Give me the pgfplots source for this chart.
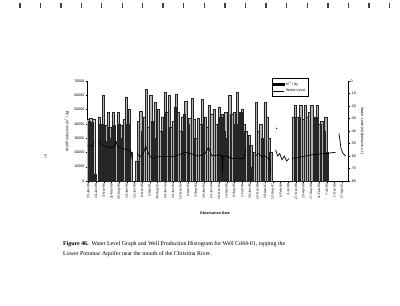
\documentclass[border=0pt]{standalone}
\usepackage{fontspec}
\setmainfont{Liberation Sans}
\newfontfamily\capfont{Liberation Serif}
\usepackage{pgfplots}
\pgfplotsset{compat=1.18}
\usepackage{pgfplotstable}

\pgfplotstableread{
x y
0.5 43000
2.0 42000
3.5 44000
5.0 41000
6.5 43000
8.2 5000
12.0 45000
13.7 40000
15.3 40000
16.3 60000
18.0 28000
19.3 39000
21.3 48000
22.7 38000
24.3 30000
26.0 48000
27.3 39000
28.7 28000
31.0 48000
32.3 40000
33.7 39000
35.3 30000
37.0 43000
39.3 59000
40.7 40000
42.0 50000
43.7 20000
49.7 14000
51.3 42000
53.7 49000
55.3 35000
57.0 45000
59.3 64000
61.3 38000
63.7 60000
65.3 42000
68.0 55000
69.3 30000
71.3 50000
73.7 35000
75.3 45000
78.0 62000
79.7 48000
82.0 60000
83.7 38000
86.0 42000
88.0 52000
89.3 61000
91.3 48000
93.7 35000
95.3 45000
97.3 47000
98.7 56000
101.3 40000
102.7 44000
105.3 58000
107.0 43000
108.7 30000
111.3 44000
113.7 40000
115.3 57000
118.0 45000
120.3 38000
122.0 53000
124.7 47000
127.0 50000
129.3 40000
132.0 52000
133.7 45000
135.3 47000
137.0 35000
138.7 48000
140.3 30000
142.7 60000
144.7 47000
147.0 48000
148.7 40000
150.3 62000
152.0 48000
153.7 48000
155.3 50000
157.0 40000
158.7 35000
162.0 32000
163.7 25000
165.3 10000
167.0 20000
169.3 55000
171.3 35000
173.7 40000
175.3 30000
178.0 55000
180.3 45000
182.0 30000
183.7 20000
206.0 45000
208.0 53000
209.7 45000
212.0 45000
213.7 53000
216.0 43000
218.0 53000
220.3 45000
222.0 48000
224.7 53000
227.0 45000
228.7 45000
230.3 53000
232.7 40000
234.7 42000
237.0 35000
238.7 45000
240.3 20000
}\prodtable

\pgfplotstableread{
x y
0.3 -52
5.3 -52
7.0 -48.5
nan nan
12.7 -48.5
15.3 -51
20.3 -53
27.0 -53
28.7 -48.5
31.3 -53
38.7 -54.7
43.7 -55.7
45.3 -63
nan nan
50.3 -58.4
53.7 -60.5
57.0 -56.5
58.7 -52
62.0 -59
65.3 -62
72.0 -60.5
85.3 -60.5
92.0 -59
98.7 -57
112.0 -60
118.0 -58
121.5 -53
125.0 -60
132.0 -59
135.0 -60
135.5 -74
136.0 -60
138.7 -60
145.3 -62
157.0 -62
158.7 -55
nan nan
168.0 -60
172.0 -58
175.0 -61
178.0 -60
181.0 -62
183.0 -63
183.7 -74
nan nan
188.7 -55
190.7 -60
192.7 -58
195.0 -63
197.3 -60
199.7 -64
202.0 -62
nan nan
205.3 -62
212.0 -61
225.3 -59
238.7 -58
248.7 -57
nan nan
252.0 -42
253.0 -48
254.0 -54
256.0 -58
258.7 -60
}\leveltable

\newcommand{\chfont}{\fontsize{3.6}{4.2}\selectfont}

\begin{document}
\begin{tikzpicture}[x=1pt,y=1pt]
\useasboundingbox (0pt,0pt) rectangle (400pt,306pt);
% scan marks along the top edge
\foreach \mx in {20,40.7,61,81.3,101.7,122.3,142.7,163,183.3,204.3,225,245.7,266,286.7,307.3,328,348.7,369,389.3}{
  \fill[black!75] (\mx pt-0.6pt,298pt) rectangle (\mx pt+0.6pt,303pt);
}
\node[rotate=90,font=\fontsize{3.5}{4}\selectfont,text=black!70] at (45.5pt,150pt) {LB};

\begin{axis}[
  at={(87pt,125pt)}, anchor=south west,
  scale only axis, width=261pt, height=100pt,
  xmin=0, xmax=261, ymin=0, ymax=70000,
  axis y line*=left, axis x line*=bottom,
  axis line style={line width=0.4pt, black},
  tick align=outside, major tick length=1.5pt,
  tick style={line width=0.3pt, black},
  ytick={0,10000,20000,30000,40000,50000,60000,70000},
  scaled y ticks=false,
  /pgf/number format/1000 sep={},
  /pgf/number format/assume math mode=true,
  yticklabel style={font=\chfont, inner sep=1pt},
  xtick={1.3,9.0,16.7,24.4,32.1,39.8,47.4,55.1,62.8,70.5,78.2,85.9,93.6,101.3,109.0,116.7,124.3,132.0,139.7,147.4,155.1,162.8,170.5,178.2,185.9,193.6,201.2,208.9,216.6,224.3,232.0,239.7,247.4,255.1},
  xticklabels={15-Jan-88,10-Jun-88,4-Nov-88,31-Mar-89,25-Aug-89,19-Jan-90,15-Jun-90,9-Nov-90,5-Apr-91,30-Aug-91,24-Jan-92,19-Jun-92,13-Nov-92,9-Apr-93,3-Sep-93,28-Jan-94,24-Jun-94,18-Nov-94,14-Apr-95,8-Sep-95,2-Feb-96,28-Jun-96,22-Nov-96,18-Apr-97,12-Sep-97,6-Feb-98,3-Jul-98,27-Nov-98,23-Apr-99,17-Sep-99,11-Feb-00,7-Jul-00,1-Dec-00,27-Apr-01},
  xticklabel style={rotate=90, anchor=east, font=\fontsize{3.3}{4}\selectfont, inner sep=1pt},
  ylabel={Well Production (m\textsuperscript{3} / dy)},
  ylabel style={font=\chfont, at={(axis description cs:-0.077,0.5)}, anchor=center},
  xlabel={\textbf{Observation Date}},
  xlabel style={font=\chfont, at={(axis description cs:0.49,-0.32)}, anchor=center},
]
\addplot[ybar, bar width=2.3, fill=black!30, draw=black!85, line width=0.2pt] table[x=x,y=y] {\prodtable};
\end{axis}

\begin{axis}[
  at={(87pt,125pt)}, anchor=south west,
  scale only axis, width=261pt, height=100pt,
  xmin=0, xmax=261, ymin=-80, ymax=0,
  axis y line*=right, axis x line=none,
  axis line style={line width=0.4pt, black},
  tick align=outside, major tick length=1.5pt,
  tick style={line width=0.3pt, black},
  ytick={0,-10,-20,-30,-40,-50,-60,-70,-80},
  /pgf/number format/assume math mode=true,
  yticklabel style={font=\chfont, inner sep=1pt},
  ylabel={Water Level (m)(below m.s.l.)},
  ylabel style={font=\chfont, at={(axis description cs:1.054,0.5)}, anchor=center, rotate=180},
  unbounded coords=jump,
  legend style={at={(0.708,1.027)}, anchor=north west, font=\chfont, draw=black, line width=0.3pt, inner sep=0.8pt, row sep=-1.2pt, fill=white},
  legend cell align=left,
]
\addlegendimage{legend image code/.code={\fill[black] (0pt,-1.1pt) rectangle (11pt,1.1pt);}}
\addlegendentry{m\textsuperscript{3} / dy}
\addplot[black, line width=0.7pt, legend image code/.code={\draw[black,line width=0.5pt] (0pt,0pt) -- (11pt,0pt);}] table[x=x,y=y] {\leveltable};
\addlegendentry{Water Level}
\addplot[only marks, mark=*, mark size=0.4pt, black, forget plot] coordinates {(189.7,-37.8)};
\end{axis}

\node[anchor=base west, font=\capfont\fontsize{5.9}{7}\selectfont, inner sep=0] at (63pt,60pt) {\textbf{Figure 46.}\ \ Water Level Graph and Well Production Histogram for Well Cd44-01, tapping the};
\node[anchor=base west, font=\capfont\fontsize{5.9}{7}\selectfont, inner sep=0] at (63pt,50pt) {Lower Potomac Aquifer near the mouth of the Christina River.};
\end{tikzpicture}
\end{document}
